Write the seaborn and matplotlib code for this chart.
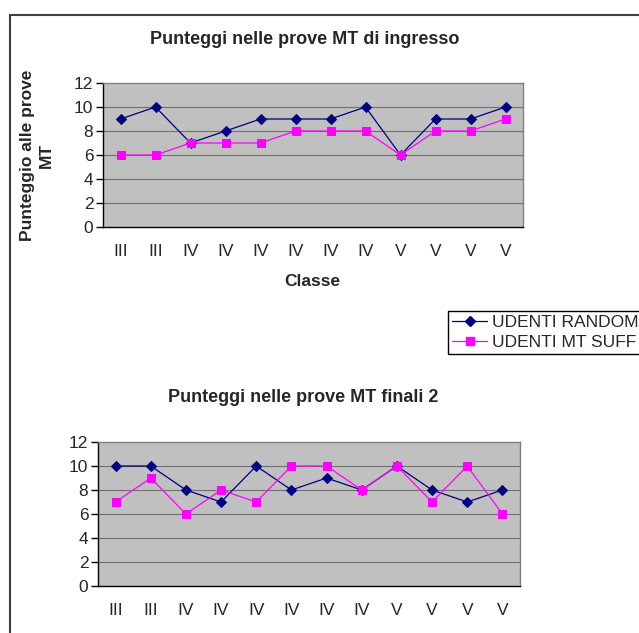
import pandas as pd
import numpy as np
import matplotlib
matplotlib.use("Agg")
import matplotlib.pyplot as plt
import matplotlib.patches as mpatches
from matplotlib.lines import Line2D
import seaborn as sns

# Dati
classi = ["III", "III", "IV", "IV", "IV", "IV", "IV", "IV", "V", "V", "V", "V"]
serie = ["UDENTI RANDOM", "UDENTI MT SUFF"]

ingresso_random = [9, 10, 7, 8, 9, 9, 9, 10, 6, 9, 9, 10]
ingresso_suff = [6, 6, 7, 7, 7, 8, 8, 8, 6, 8, 8, 9]

finali_random = [10, 10, 8, 7, 10, 8, 9, 8, 10, 8, 7, 8]
finali_suff = [7, 9, 6, 8, 7, 10, 10, 8, 10, 7, 10, 6]

colori = ["#000080", "#FF00FF"]
marker = ["D", "s"]
msize = [5, 5.5]

W, H = 639, 633

sns.set_style("white")
plt.rcParams["font.family"] = ["Liberation Sans", "DejaVu Sans"]

fig = plt.figure(figsize=(W / 100, H / 100), dpi=100)

# cornice esterna (tagliata a destra e in basso)
fig.patches.append(mpatches.Rectangle((10 / W, -0.1), 1.2, 1 - 15 / H + 0.1,
                                      transform=fig.transFigure, fill=False,
                                      edgecolor="#404040", linewidth=1.5))


def disegna(ax, random_vals, suff_vals):
    df = pd.DataFrame({
        "pos": list(range(len(classi))) * 2,
        "punteggio": random_vals + suff_vals,
        "serie": [serie[0]] * len(classi) + [serie[1]] * len(classi),
    })
    for i, s in enumerate(serie):
        sub = df[df["serie"] == s]
        sns.lineplot(data=sub, x="pos", y="punteggio", ax=ax, color=colori[i],
                     marker=marker[i], markersize=msize[i],
                     markeredgecolor=colori[i], linewidth=0.9, legend=False)
    ax.set_facecolor("#C0C0C0")
    ax.set_xlim(-0.5, len(classi) - 0.5)
    ax.set_ylim(0, 12)
    ax.set_yticks(range(0, 13, 2))
    ax.set_yticklabels([str(v) for v in range(0, 13, 2)], fontsize=12.5)
    ax.set_xticks(range(len(classi)))
    ax.set_xticklabels(classi, fontsize=12.5)
    ax.set_xticks(np.arange(-0.5, len(classi), 1.0), minor=True)
    ax.tick_params(axis="x", which="major", length=0, pad=12)
    ax.tick_params(axis="x", which="minor", length=5, width=1, color="black", direction="out")
    ax.tick_params(axis="y", length=5, width=1, color="black", direction="out", pad=2, left=True)
    for v in range(2, 12, 2):
        ax.axhline(v, color="#707070", linewidth=0.8, zorder=0.5)
    ax.spines["left"].set_color("black")
    ax.spines["bottom"].set_color("black")
    ax.spines["top"].set_color("#808080")
    ax.spines["right"].set_color("#808080")
    for sp in ax.spines.values():
        sp.set_linewidth(1)
    ax.set_xlabel("")
    ax.set_ylabel("")


ax1 = fig.add_axes([103 / W, 1 - 227 / H, 420 / W, 144 / H])
disegna(ax1, ingresso_random, ingresso_suff)

ax2 = fig.add_axes([98 / W, 1 - 586 / H, 422 / W, 144 / H])
disegna(ax2, finali_random, finali_suff)

# testi
fig.text(305 / W, 1 - 40 / H, "Punteggi nelle prove MT di ingresso",
         fontsize=13, fontweight="bold", ha="center", va="center")
fig.text(303 / W, 1 - 397 / H, "Punteggi nelle prove MT finali 2",
         fontsize=13, fontweight="bold", ha="center", va="center")
fig.text(37 / W, 1 - 155 / H, "Punteggio alle prove\nMT", rotation=90,
         fontsize=12.5, fontweight="bold", ha="center", va="center",
         multialignment="center", linespacing=1.3)
fig.text(312 / W, 1 - 281 / H, "Classe", fontsize=12.5, fontweight="bold",
         ha="center", va="center")

handles = [Line2D([0], [0], color=colori[i], marker=marker[i], markersize=msize[i],
                  linewidth=0.9) for i in range(2)]
leg = fig.legend(handles, serie, loc="upper left",
                 bbox_to_anchor=(448 / W, 1 - 311 / H), fontsize=12.5,
                 frameon=True, fancybox=False, framealpha=1, edgecolor="black",
                 handlelength=2.0, handletextpad=0.3, borderpad=0.25,
                 labelspacing=0.25, borderaxespad=0)
leg.get_frame().set_linewidth(1)

fig.savefig("out.png", dpi=100)
